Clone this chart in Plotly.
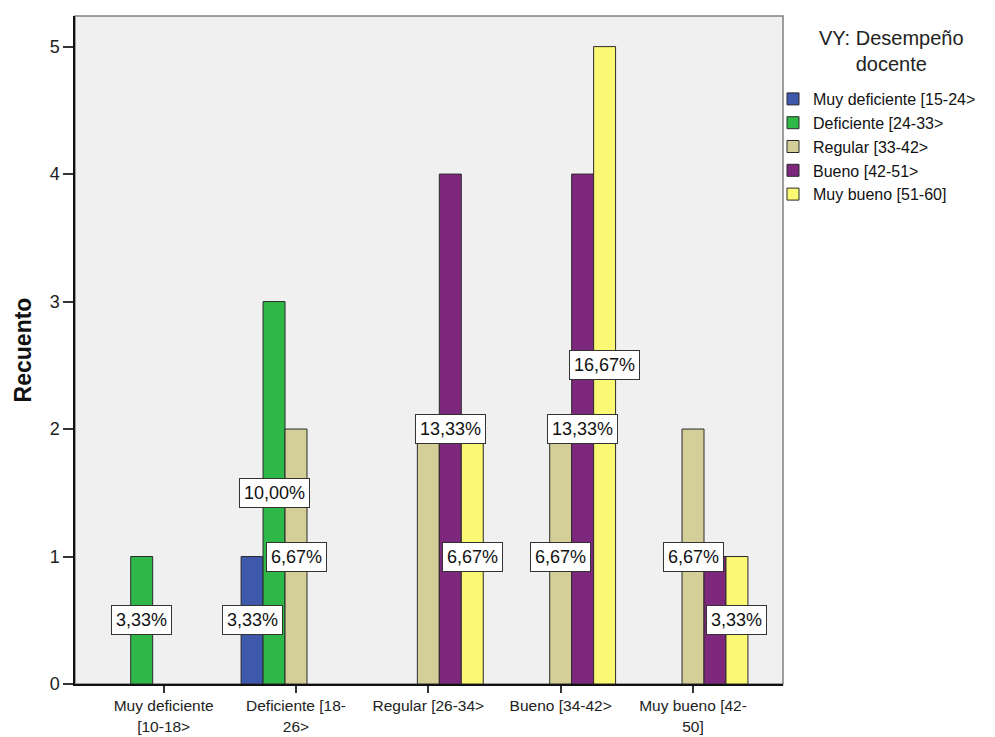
import plotly.graph_objects as go

categories = ["Muy deficiente [10-18>", "Deficiente [18-26>", "Regular [26-34>",
              "Bueno [34-42>", "Muy bueno [42-50]"]
tick_labels = ["Muy deficiente<br>[10-18>", "Deficiente [18-<br>26>", "Regular [26-34>",
               "Bueno [34-42>", "Muy bueno [42-<br>50]"]
series_names = ["Muy deficiente [15-24>", "Deficiente [24-33>", "Regular [33-42>",
                "Bueno [42-51>", "Muy bueno [51-60]"]
muy_deficiente = [0, 1, 0, 0, 0]
deficiente = [1, 3, 0, 0, 0]
regular = [0, 2, 2, 2, 2]
bueno = [0, 0, 4, 4, 1]
muy_bueno = [0, 0, 2, 5, 1]
series_values = [muy_deficiente, deficiente, regular, bueno, muy_bueno]
colors = ["#3E58AC", "#2EB848", "#D4CF98", "#7D287D", "#FBF873"]
legend_title = "VY: Desempeño<br>docente"
# labels hidden in the original because of overlap: (series index, category index)
hidden_labels = [(2, 2), (3, 4)]

total = sum(sum(s) for s in series_values)
xpos = list(range(len(categories)))
bargap = 0.17
n = len(series_values)
slot = (1 - bargap) / n

W, H = 995, 737
L, R, T, B = 75, 212, 16, 53
pw, ph = W - L - R, H - T - B

fig = go.Figure()
for name, vals, col in zip(series_names, series_values, colors):
    fig.add_trace(go.Bar(
        x=xpos, y=[v if v else None for v in vals], name=name,
        marker=dict(color=col, line=dict(color="#2a2a2a", width=1)),
        hoverinfo="skip"))

annotations = []
for si, vals in enumerate(series_values):
    for ci, v in enumerate(vals):
        if not v or (si, ci) in hidden_labels:
            continue
        pct = f"{v / total * 100:.2f}".replace(".", ",") + "%"
        annotations.append(dict(
            x=ci + (si - (n - 1) / 2) * slot, y=v / 2, xref="x", yref="y",
            text=pct, showarrow=False,
            font=dict(family="Liberation Sans, Arial", size=18, color="#111"),
            bgcolor="white", bordercolor="#333", borderwidth=1, borderpad=4))

# legend title (centered, as in the original)
annotations.append(dict(
    x=(891 - L) / pw, y=1 - (51 - T) / ph, xref="x domain", yref="y domain",
    text=legend_title, showarrow=False, align="center",
    xanchor="center", yanchor="middle",
    font=dict(family="Liberation Sans, Arial", size=20, color="#222")))

fig.update_layout(
    width=W, height=H,
    margin=dict(l=L, r=R, t=T, b=B, autoexpand=False),
    paper_bgcolor="white", plot_bgcolor="#F0F0F0",
    barmode="group", bargap=bargap, bargroupgap=0,
    font=dict(family="Liberation Sans, Arial", size=18, color="#222"),
    annotations=annotations,
    shapes=[dict(type="rect", xref="paper", yref="paper", x0=0, y0=0, x1=1, y1=1,
                 line=dict(color="#808080", width=1.5), layer="below")],
    legend=dict(
        x=(773 - L) / pw, y=1 - (82 - T) / ph, xanchor="left", yanchor="top",
        font=dict(size=16, color="#111"), bgcolor="rgba(0,0,0,0)",
        traceorder="normal", itemclick=False, tracegroupgap=0),
    xaxis=dict(range=[-0.67, 4.68], tickmode="array", tickvals=xpos, ticktext=tick_labels,
               ticks="outside", ticklen=7, tickcolor="#333", tickwidth=1.5,
               showline=True, linecolor="#111", linewidth=1.5, showgrid=False,
               zeroline=False, tickfont=dict(size=15.5), automargin=False),
    yaxis=dict(range=[0, 5.24], tickmode="array", tickvals=[0, 1, 2, 3, 4, 5],
               ticks="outside", ticklen=10, tickcolor="#333", tickwidth=1.5,
               showline=True, linecolor="#111", linewidth=1.5, showgrid=False,
               zeroline=False, tickfont=dict(size=18), automargin=False,
               title=dict(text="<b>Recuento</b>", font=dict(size=23, color="#111"),
                          standoff=12)),
)

fig.write_html("out.html")
